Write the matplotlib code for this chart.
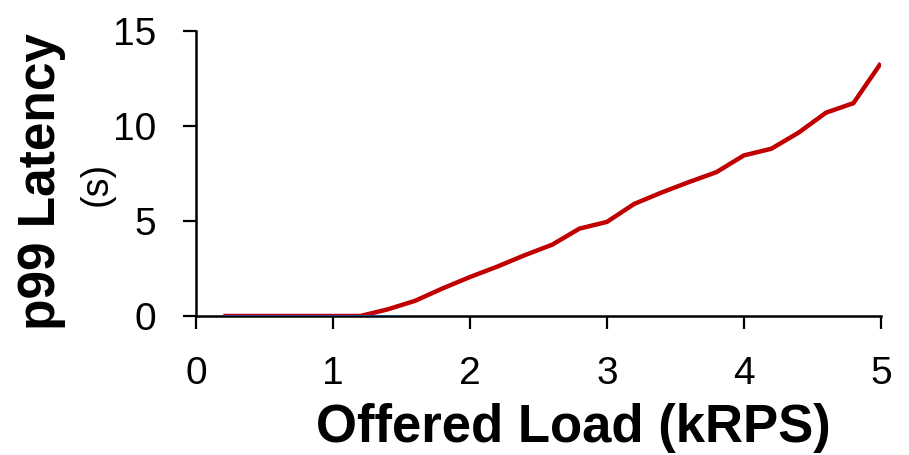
import matplotlib.pyplot as plt

plt.rcParams['font.family'] = ['Liberation Sans', 'DejaVu Sans']

# offered load (kRPS) and p99 latency (s)
load_red = [0.2, 0.4, 0.6, 0.8, 1.0, 1.2, 1.4, 1.6, 1.8, 2.0, 2.2, 2.4, 2.6,
            2.8, 3.0, 3.2, 3.4, 3.6, 3.8, 4.0, 4.2, 4.4, 4.6, 4.8, 5.0]
lat_red = [0.0, 0.0, 0.0, 0.0, 0.0, 0.0, 0.35, 0.8, 1.45, 2.05, 2.6, 3.2, 3.75,
           4.6, 4.95, 5.9, 6.5, 7.05, 7.57, 8.45, 8.8, 9.65, 10.7, 11.2, 13.3]

load_blue = [0.2, 0.4, 0.6, 0.8, 1.0, 1.2, 1.4, 1.5]
lat_blue = [0.0, 0.0, 0.0, 0.0, 0.0, 0.0, 0.0, 0.0]

x_ticks = [0, 1, 2, 3, 4, 5]
y_ticks = [0, 5, 10, 15]

fig = plt.figure(figsize=(9.09, 4.55), dpi=100)
ax = fig.add_axes([0.2156, 0.3055, 0.7534, 0.6265])

ax.plot(load_red, lat_red, color='#C00000', lw=3.2, solid_capstyle='butt', zorder=3)
ax.plot(load_blue, lat_blue, color='#15508A', lw=2.0, solid_capstyle='butt', zorder=4)

ax.set_xlim(0, 5)
ax.set_ylim(0, 15)
ax.set_xticks(x_ticks)
ax.set_yticks(y_ticks)
ax.tick_params(axis='both', direction='out', length=9.5, width=1.6, pad=19,
               labelsize=28, colors='black')

for side in ('top', 'right'):
    ax.spines[side].set_visible(False)
for side in ('left', 'bottom'):
    ax.spines[side].set_linewidth(1.8)
    ax.spines[side].set_color('black')
ax.spines['left'].set_zorder(5)

fig.text(0.631, 0.029, 'Offered Load (kRPS)', ha='center', va='baseline',
         fontsize=38, fontweight='bold')
fig.text(0.046, 0.60, 'p99 Latency', ha='center', va='center', rotation=90,
         fontsize=37, fontweight='bold')
fig.text(0.106, 0.595, '(s)', ha='center', va='center', rotation=90, fontsize=27)

fig.savefig('out.png', dpi=100)
